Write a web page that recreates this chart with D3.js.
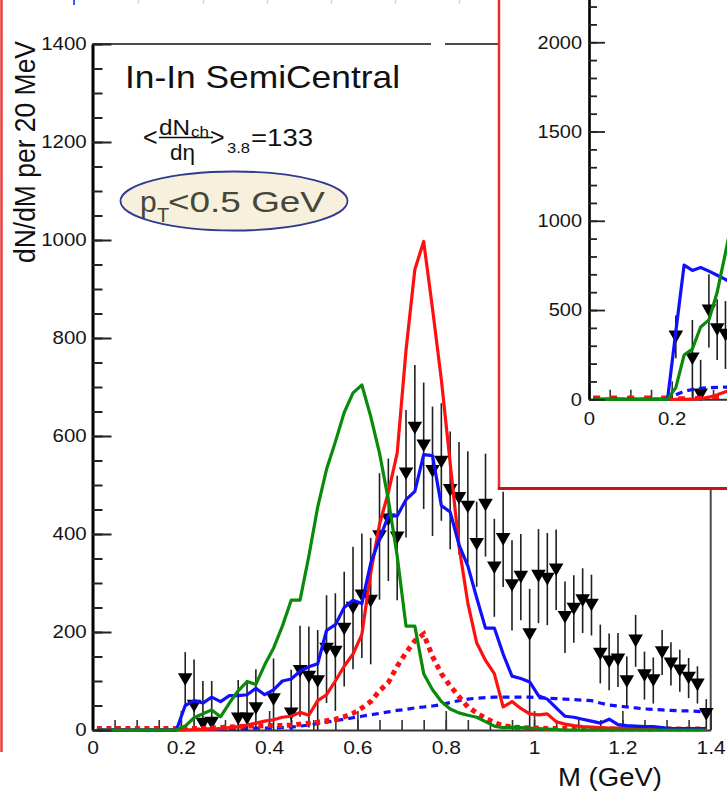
<!DOCTYPE html>
<html>
<head>
<meta charset="utf-8">
<title>In-In SemiCentral dimuon mass spectrum</title>
<script src="https://cdn.jsdelivr.net/npm/d3@7"></script>
<style>
  html, body { margin: 0; padding: 0; background: #ffffff; }
  svg { display: block; font-family: "Liberation Sans", Arial, Helvetica, sans-serif; }
</style>
</head>
<body>
<svg id="chart" width="727" height="810"></svg>
<script>
// ---------- model curves: values per 20 MeV bin, bin centres in GeV ----------
const massBins = [0.01,0.03,0.05,0.07,0.09,0.11,0.13,0.15,0.17,0.19,
                  0.21,0.23,0.25,0.27,0.29,0.31,0.33,0.35,0.37,0.39,
                  0.41,0.43,0.45,0.47,0.49,0.51,0.53,0.55,0.57,0.59,
                  0.61,0.63,0.65,0.67,0.69,0.71,0.73,0.75,0.77,0.79,
                  0.81,0.83,0.85,0.87,0.89,0.91,0.93,0.95,0.97,0.99,
                  1.01,1.03,1.05,1.07,1.09,1.11,1.13,1.15,1.17,1.19,
                  1.21,1.23,1.25,1.27,1.29,1.31,1.33,1.35,1.37,1.39];

const greenSolid = [0,0,0,0,0,0,0,0,0,0,
                    8,25,33,41,27,55,80,99,93,133,
                    167,212,265,265,355,455,532,588,648,688,
                    704,640,565,470,355,212,212,115,82,58,
                    43,35,30,26,17,8,5,6,5,4,
                    3,2,1,0,0,0,0,0,0,0,
                    0,0,0,0,0,0,0,0,0,0];

const redSolid = [0,0,0,0,0,0,0,0,0,0,
                  0,1,1,2,3,5,7,10,14,18,
                  21,26,28,36,30,60,72,100,130,155,
                  195,320,420,485,565,775,940,997,860,715,
                  545,375,259,178,142,115,47,58,44,33,
                  31,33,17,12,9,7,6,5,4,4,
                  3,3,3,2,2,2,2,1,1,1];

const blueSolid = [0,0,0,0,0,0,0,0,0,0,
                   50,60,55,67,58,70,70,72,85,72,
                   82,100,104,120,129,135,203,215,250,265,
                   258,340,390,437,437,470,487,562,560,458,
                   445,378,335,270,208,208,155,110,105,98,
                   70,63,45,28,26,22,18,14,22,11,
                   9,8,7,7,5,3,3,3,3,3];

const redDotted = [3,3,3,3,3,3,3,3,3,3,
                   3,3,3,4,5,6,7,8,8,9,
                   9,9,10,12,14,16,19,22,27,34,
                   45,58,80,97,130,158,182,196,150,115,
                   90,68,47,35,24,15,9,6,5,4,
                   4,3,3,3,3,2,2,2,2,2,
                   2,2,2,2,2,2,2,2,2,2];

const blueDashed = [0,0,0,0,0,0,0,0,0,0,
                    1,1,2,2,2,3,3,3,4,4,
                    4,5,6,8,10,13,16,19,22,25,
                    28,31,34,37,40,42,45,47,49,52,
                    56,60,63,65,66,67,67,67,67,67,
                    66,65,64,63,62,61,60,55,51,49,
                    47,45,43,42,41,40,39,39,38,37];

// ---------- measured spectrum ----------
const dataMass = [0.21,0.23,0.25,0.27,0.33,0.35,0.37,0.41,
                  0.45,0.47,0.49,0.51,0.53,0.55,0.57,0.59,0.61,0.63,
                  0.65,0.67,0.69,0.71,0.73,0.75,0.77,0.79,0.81,0.83,
                  0.85,0.87,0.89,0.91,0.93,0.95,0.97,0.99,1.01,1.03,
                  1.05,1.07,1.09,1.11,1.13,1.15,1.17,1.19,1.21,1.23,
                  1.25,1.27,1.29,1.31,1.33,1.35,1.37,1.39];
const dataCounts = [103,49,12,14,23,23,44,62,
                    33,120,108,99,165,159,206,249,274,263,
                    395,429,392,523,616,580,528,547,489,473,
                    455,379,459,331,389,295,312,195,314,308,
                    327,230,247,264,255,155,139,143,99,182,
                    111,101,158,135,121,106,92,32];
const dataErrUp = [56,95,88,86,79,79,80,84,
                   90,93,103,105,110,120,117,125,127,129,
                   129,125,127,130,129,129,132,120,120,115,
                   114,87,105,100,97,92,88,93,96,94,
                   82,73,69,66,62,60,58,55,51,53,
                   49,47,46,44,43,41,38,31];
const dataErrDown = [56,95,88,86,79,79,80,84,
                     90,93,103,105,110,120,117,125,127,129,
                     129,125,127,130,129,129,132,120,120,115,
                     114,87,105,100,97,92,88,195,96,94,
                     82,73,69,66,62,60,58,55,51,53,
                     49,47,46,44,43,41,38,31];

// ---------- inset panel (wider y range) ----------
const insetBins = massBins.slice(0, 18);
const insetGreen = [0,0,0,0,0,0,0,0,0,0, 65,248,282,405,445,600,820,1050];
const insetBlue  = [0,0,0,0,0,0,0,0,0,0, 380,752,722,738,718,695,672,640];
const insetRed   = [0,0,0,0,0,0,0,0,0,0, 0,0,1,3,12,26,42,60];
const insetRedDotted  = [10,10,10,10,10,10,10,10,10,10, 6,6,7,8,10,12,14,16];
const insetBlueDashed = [0,0,0,0,0,0,0,0,0,0, 25,45,55,62,65,67,68,68];
const insetDataMass   = [0.21,0.25,0.27,0.29,0.31,0.33];
const insetDataCounts = [350,227,25,495,390,360];
const insetDataErr    = [120,217,196,205,170,190];

// ---------- axis labels ----------
const yTickLabels = [0,200,400,600,800,1000,1200,1400];
const xTickLabels = [0,0.2,0.4,0.6,0.8,1,1.2,1.4];
const insetYTickLabels = [0,500,1000,1500,2000];
const insetXTickLabels = [0,0.2];
const insetXMajorTicks = [0,0.2,0.4];

const COLORS = { red: "#ff1010", blue: "#1010ff", green: "#0a8a0a" };

const svg = d3.select("#chart");
svg.append("rect").attr("width", 727).attr("height", 810).attr("fill", "#ffffff");

// page decorations: red page edge and marks along the top border
svg.append("line").attr("x1", 1.5).attr("x2", 1.5).attr("y1", 0).attr("y2", 752)
  .attr("stroke", "#ee3b3b").attr("stroke-width", 2.5);
svg.append("line").attr("x1", 74).attr("x2", 74).attr("y1", 0).attr("y2", 5)
  .attr("stroke", "#3a5cf0").attr("stroke-width", 2);
[138, 203, 267, 331, 395, 459].forEach(px => {
  svg.append("line").attr("x1", px + 1).attr("x2", px).attr("y1", 0).attr("y2", 4)
    .attr("stroke", "#c4c6d6").attr("stroke-width", 1);
});

// ---------- main panel ----------
const x = d3.scaleLinear().domain([0, 1.4]).range([92.5, 710.7]);
const y = d3.scaleLinear().domain([0, 1400]).range([730, 44]);

// frame (top and right edges)
const frame = svg.append("g").attr("stroke", "#4a4a4a").attr("stroke-width", 2);
frame.append("line").attr("x1", x(0)).attr("x2", 431).attr("y1", y(1400)).attr("y2", y(1400));
frame.append("line").attr("x1", 445).attr("x2", x(1.4)).attr("y1", y(1400)).attr("y2", y(1400));
frame.append("line").attr("x1", x(1.4)).attr("x2", x(1.4)).attr("y1", y(1400)).attr("y2", y(0));

function tickText(sel, size, sx) {
  sel.attr("font-family", null).attr("font-size", null);
  sel.selectAll("text").attr("font-size", size).attr("fill", "#151515")
    .attr("transform", `scale(${sx},1)`);
}

// bottom axis: line + labels, ticks pointing into the plot
const gx = svg.append("g").attr("transform", `translate(0,${y(0)})`);
gx.call(d3.axisBottom(x).tickValues(xTickLabels).tickSize(0).tickSizeOuter(0).tickPadding(12)
  .tickFormat(d => String(+d.toFixed(1))));
gx.select(".domain").attr("stroke", "#333").attr("stroke-width", 2.2);
tickText(gx, 17.5, 1.2);
const gxMaj = svg.append("g").attr("transform", `translate(0,${y(0)})`)
  .call(d3.axisTop(x).tickValues(xTickLabels).tickSize(19).tickFormat(""));
const gxMin = svg.append("g").attr("transform", `translate(0,${y(0)})`)
  .call(d3.axisTop(x).tickValues(d3.range(0, 29).map(i => i * 0.05)).tickSize(10).tickFormat(""));
[gxMaj, gxMin].forEach(g => { g.select(".domain").remove(); g.selectAll("line").attr("stroke", "#333").attr("stroke-width", 1.6); });

// data points with error bars
const pts = dataMass.map((m, i) => ({ m, v: dataCounts[i], up: dataErrUp[i], dn: dataErrDown[i] }));
const gData = svg.append("g");
gData.selectAll("line.err").data(pts).join("line").attr("class", "err")
  .attr("x1", d => x(d.m)).attr("x2", d => x(d.m))
  .attr("y1", d => y(d.v + d.up)).attr("y2", d => y(Math.max(0, d.v - d.dn)))
  .attr("stroke", "#202020").attr("stroke-width", 1.6);
const triSize = 92;
const triOff = Math.sqrt(triSize / (3 * Math.sqrt(3))) / 2; // centre the box of the flipped triangle
const tri = d3.symbol(d3.symbolTriangle, triSize);
gData.selectAll("path.pt").data(pts).join("path").attr("class", "pt")
  .attr("d", tri)
  .attr("transform", d => `translate(${x(d.m)},${y(d.v) - triOff}) rotate(180)`)
  .attr("fill", "#000");

// model curves
const mainLine = d3.line().x((d, i) => x(massBins[i])).y(d => y(d));
const gCurves = svg.append("g").attr("fill", "none");
gCurves.append("path").datum(blueDashed).attr("d", mainLine)
  .attr("stroke", COLORS.blue).attr("stroke-width", 3.2).attr("stroke-dasharray", "7 5");
gCurves.append("path").datum(redDotted).attr("d", mainLine)
  .attr("stroke", COLORS.red).attr("stroke-width", 5).attr("stroke-dasharray", "5 4.5");
gCurves.append("path").datum(redSolid).attr("d", mainLine)
  .attr("stroke", COLORS.red).attr("stroke-width", 3.2).attr("stroke-linejoin", "round");
gCurves.append("path").datum(blueSolid).attr("d", mainLine)
  .attr("stroke", COLORS.blue).attr("stroke-width", 3.2).attr("stroke-linejoin", "round");
gCurves.append("path").datum(greenSolid).attr("d", mainLine)
  .attr("stroke", COLORS.green).attr("stroke-width", 3.2).attr("stroke-linejoin", "round");

// left axis: labels outside, ticks inside
const gy = svg.append("g").attr("transform", `translate(${x(0)},0)`);
gy.call(d3.axisLeft(y).tickValues(yTickLabels).tickSize(0).tickSizeOuter(0).tickPadding(5)
  .tickFormat(d3.format("d")));
gy.select(".domain").attr("stroke", "#000").attr("stroke-width", 3);
tickText(gy, 17.5, 1.17);
const gyMaj = svg.append("g").attr("transform", `translate(${x(0)},0)`)
  .call(d3.axisRight(y).tickValues(yTickLabels).tickSize(19).tickFormat(""));
const gyMin = svg.append("g").attr("transform", `translate(${x(0)},0)`)
  .call(d3.axisRight(y).tickValues(d3.range(0, 1401, 50)).tickSize(10).tickFormat(""));
[gyMaj, gyMin].forEach(g => { g.select(".domain").remove(); g.selectAll("line").attr("stroke", "#222").attr("stroke-width", 2); });

// axis titles
svg.append("text").text("dN/dM per 20 MeV")
  .attr("transform", "translate(35,152) rotate(-90)")
  .attr("text-anchor", "middle").attr("font-size", 29)
  .attr("textLength", 222).attr("lengthAdjust", "spacingAndGlyphs").attr("fill", "#111");
svg.append("text").text("M (GeV)")
  .attr("x", 662).attr("y", 786).attr("text-anchor", "end").attr("font-size", 25.5)
  .attr("textLength", 104).attr("lengthAdjust", "spacingAndGlyphs").attr("fill", "#111");

// annotations
svg.append("text").text("In-In SemiCentral")
  .attr("x", 125).attr("y", 88).attr("font-size", 32)
  .attr("textLength", 275).attr("lengthAdjust", "spacingAndGlyphs").attr("fill", "#111");

const mult = svg.append("g").attr("fill", "#111");
mult.append("text").text("<").attr("x", 143).attr("y", 146).attr("font-size", 25);
mult.append("text").text("dN").attr("x", 159).attr("y", 135).attr("font-size", 22)
  .attr("textLength", 31).attr("lengthAdjust", "spacingAndGlyphs");
mult.append("text").text("ch").attr("x", 191).attr("y", 136.5).attr("font-size", 14)
  .attr("textLength", 18).attr("lengthAdjust", "spacingAndGlyphs");
mult.append("line").attr("x1", 159).attr("x2", 213).attr("y1", 137.5).attr("y2", 137.5)
  .attr("stroke", "#111").attr("stroke-width", 1.5);
mult.append("text").text("dη").attr("x", 170).attr("y", 160).attr("font-size", 22)
  .attr("textLength", 25).attr("lengthAdjust", "spacingAndGlyphs");
mult.append("text").text(">").attr("x", 210).attr("y", 146).attr("font-size", 25);
mult.append("text").text("3.8").attr("x", 227).attr("y", 153).attr("font-size", 14.5)
  .attr("textLength", 23).attr("lengthAdjust", "spacingAndGlyphs");
mult.append("text").text("=133").attr("x", 251).attr("y", 145.5).attr("font-size", 24)
  .attr("textLength", 62).attr("lengthAdjust", "spacingAndGlyphs");

svg.append("ellipse").attr("cx", 234).attr("cy", 201).attr("rx", 113.5).attr("ry", 29.5)
  .attr("fill", "#f6f0dc").attr("stroke", "#2e3b8e").attr("stroke-width", 1.8);
const ptLab = svg.append("g").attr("fill", "#46463a");
ptLab.append("text").text("p").attr("x", 140).attr("y", 211.5).attr("font-size", 30);
ptLab.append("text").text("T").attr("x", 157).attr("y", 221.5).attr("font-size", 20);
ptLab.append("text").text("<0.5 GeV").attr("x", 168).attr("y", 211.5).attr("font-size", 30)
  .attr("textLength", 157).attr("lengthAdjust", "spacingAndGlyphs");

// ---------- inset panel ----------
const xi = d3.scaleLinear().domain([0, 0.4]).range([589, 754.4]);
const yi = d3.scaleLinear().domain([0, 2300]).range([399.3, -11.3]);

const inset = svg.append("g");
inset.append("rect").attr("x", 499).attr("y", -10).attr("width", 240).attr("height", 498)
  .attr("fill", "#ffffff");

const gix = inset.append("g").attr("transform", `translate(0,${yi(0)})`);
gix.call(d3.axisBottom(xi).tickValues(insetXTickLabels).tickSize(0).tickSizeOuter(0).tickPadding(12.4)
  .tickFormat(d => String(+d.toFixed(1))));
gix.select(".domain").attr("stroke", "#333").attr("stroke-width", 2);
tickText(gix, 18.5, 1.1);
const gixMaj = inset.append("g").attr("transform", `translate(0,${yi(0)})`)
  .call(d3.axisTop(xi).tickValues(insetXMajorTicks).tickSize(18).tickFormat(""));
const gixMin = inset.append("g").attr("transform", `translate(0,${yi(0)})`)
  .call(d3.axisTop(xi).tickValues(d3.range(0, 9).map(i => i * 0.05)).tickSize(9.5).tickFormat(""));
[gixMaj, gixMin].forEach(g => { g.select(".domain").remove(); g.selectAll("line").attr("stroke", "#333").attr("stroke-width", 1.6); });

const iPts = insetDataMass.map((m, i) => ({ m, v: insetDataCounts[i], e: insetDataErr[i] }));
const giData = inset.append("g");
giData.selectAll("line").data(iPts).join("line")
  .attr("x1", d => xi(d.m)).attr("x2", d => xi(d.m))
  .attr("y1", d => yi(d.v + d.e)).attr("y2", d => yi(Math.max(0, d.v - d.e)))
  .attr("stroke", "#202020").attr("stroke-width", 1.6);
giData.selectAll("path").data(iPts).join("path")
  .attr("d", tri)
  .attr("transform", d => `translate(${xi(d.m)},${yi(d.v) - triOff}) rotate(180)`)
  .attr("fill", "#000");

const insetLine = d3.line().x((d, i) => xi(insetBins[i])).y(d => yi(d));
const giCurves = inset.append("g").attr("fill", "none");
giCurves.append("path").datum(insetBlueDashed).attr("d", insetLine)
  .attr("stroke", COLORS.blue).attr("stroke-width", 3.2).attr("stroke-dasharray", "7 5");
giCurves.append("path").datum(insetRedDotted).attr("d", insetLine)
  .attr("stroke", COLORS.red).attr("stroke-width", 4).attr("stroke-dasharray", "7 10");
giCurves.append("path").datum(insetRed).attr("d", insetLine)
  .attr("stroke", COLORS.red).attr("stroke-width", 3.2);
giCurves.append("path").datum(insetBlue).attr("d", insetLine)
  .attr("stroke", COLORS.blue).attr("stroke-width", 3.2).attr("stroke-linejoin", "round");
giCurves.append("path").datum(insetGreen).attr("d", insetLine)
  .attr("stroke", COLORS.green).attr("stroke-width", 3.2).attr("stroke-linejoin", "round");

const giy = inset.append("g").attr("transform", `translate(${xi(0)},0)`);
giy.call(d3.axisLeft(yi).tickValues(insetYTickLabels).tickSize(0).tickSizeOuter(0).tickPadding(6.5)
  .tickFormat(d3.format("d")));
giy.select(".domain").attr("stroke", "#000").attr("stroke-width", 2.6);
tickText(giy, 18.5, 1.08);
const giyMaj = inset.append("g").attr("transform", `translate(${xi(0)},0)`)
  .call(d3.axisRight(yi).tickValues(insetYTickLabels).tickSize(16).tickFormat(""));
const giyMin = inset.append("g").attr("transform", `translate(${xi(0)},0)`)
  .call(d3.axisRight(yi).tickValues(d3.range(0, 2301, 100)).tickSize(8).tickFormat(""));
[giyMaj, giyMin].forEach(g => { g.select(".domain").remove(); g.selectAll("line").attr("stroke", "#222").attr("stroke-width", 1.8); });

// inset border
inset.append("line").attr("x1", 499).attr("x2", 499).attr("y1", -5).attr("y2", 489)
  .attr("stroke", "#ec2c2c").attr("stroke-width", 2.5);
inset.append("line").attr("x1", 497.8).attr("x2", 735).attr("y1", 488.5).attr("y2", 488.5)
  .attr("stroke", "#c81418").attr("stroke-width", 3);
</script>
</body>
</html>
